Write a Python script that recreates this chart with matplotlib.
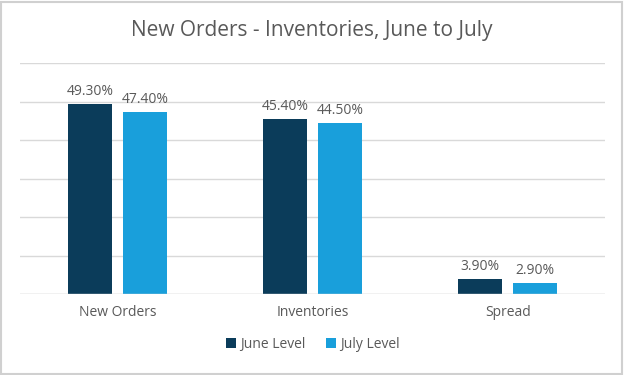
import matplotlib
matplotlib.use("Agg")
import matplotlib.pyplot as plt
import numpy as np
from matplotlib.patches import Rectangle

categories = ["New Orders", "Inventories", "Spread"]
june_level = [49.3, 45.4, 3.9]
july_level = [47.4, 44.5, 2.9]
series_names = ["June Level", "July Level"]

plt.rcParams['font.family'] = ['Open Sans', 'DejaVu Sans']
dark = '#0B3C5A'
light = '#199FDB'
txt = '#595959'

fig = plt.figure(figsize=(6.24, 3.75), dpi=100)
ax = fig.add_axes([0.032, 0.216, 0.938, 0.616])

x = np.arange(len(categories))
w = 0.225
off = 0.141
b1 = ax.bar(x - off, june_level, w, color=dark, zorder=3)
b2 = ax.bar(x + off, july_level, w, color=light, zorder=3)

for bars, vals in ((b1, june_level), (b2, july_level)):
    for b, v in zip(bars, vals):
        ax.text(b.get_x() + b.get_width() / 2, v + 1.3, f"{v:.2f}%",
                ha='center', va='bottom', fontsize=10, color=txt)

ax.set_xlim(-0.5, 2.5)
ax.set_ylim(0, 60)
ax.set_yticks(np.arange(0, 61, 10))
ax.set_yticklabels([])
ax.tick_params(axis='y', length=0)
ax.tick_params(axis='x', length=0, pad=8, labelsize=10, labelcolor=txt)
ax.set_xticks(x)
ax.set_xticklabels(categories)
ax.grid(axis='y', color='#D9D9D9', linewidth=1, zorder=0)
for s in ax.spines.values():
    s.set_visible(False)
ax.axhline(0, color='#D9D9D9', linewidth=1, zorder=4)

fig.text(0.5, 0.918, "New Orders - Inventories, June to July", ha='center',
         va='center', fontsize=15, color=txt)

ax.legend([b1, b2], series_names, loc='upper center', bbox_to_anchor=(0.5, -0.13),
          ncol=2, frameon=False, fontsize=10, labelcolor=txt,
          handlelength=0.7, handleheight=0.7, handletextpad=0.3, columnspacing=1.5)

fig.patches.append(Rectangle((0.002, 0.003), 0.995, 0.993, transform=fig.transFigure,
                             fill=False, edgecolor='#D0D0D0', linewidth=1.5))

fig.savefig("out.png", dpi=100, facecolor='white')
